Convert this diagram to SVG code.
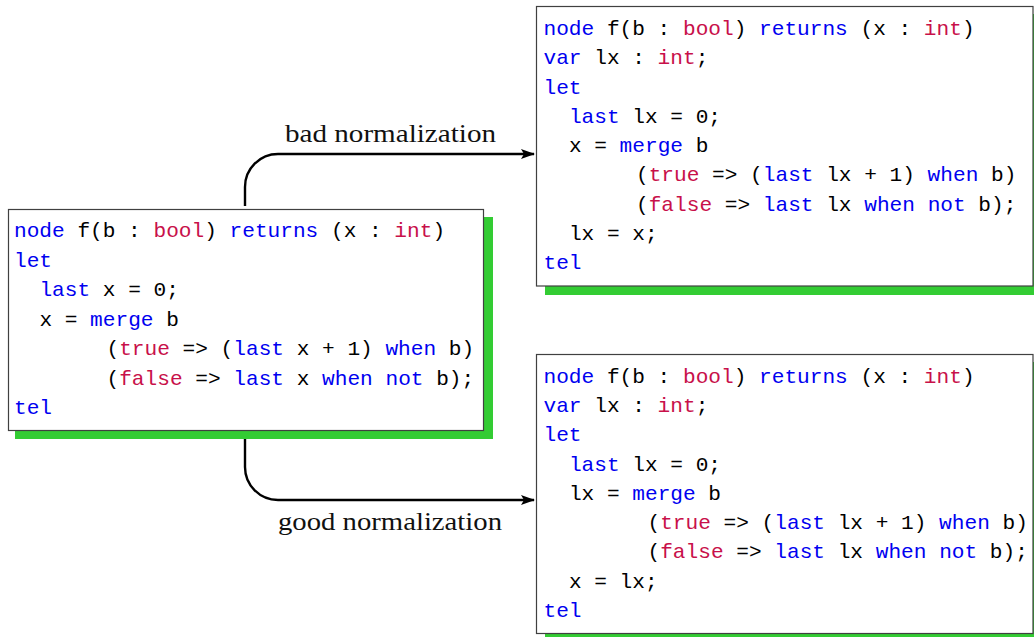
<svg xmlns="http://www.w3.org/2000/svg" width="1034" height="637" viewBox="0 0 1034 637">
<style>
.code{font-family:"Liberation Mono","DejaVu Sans Mono",monospace;font-size:21.13px;fill:#000}
.k{fill:#0000f0}
.t{fill:#c8104a}
.box{fill:#fff;stroke:#404040;stroke-width:1.2}
.shadow{fill:#33cc33}
.lbl{font-family:"Liberation Serif","DejaVu Serif",serif;font-size:26px;fill:#111}
.conn{fill:none;stroke:#000;stroke-width:2.4}
</style>
<defs>
<marker id="arr" viewBox="0 0 14 10" refX="13" refY="5" markerWidth="14" markerHeight="10" markerUnits="userSpaceOnUse" orient="auto">
<path d="M0,0 L14,5 L0,10 L3,5 Z" fill="#000"/>
</marker>
</defs>
<g id="connectors">
<path class="conn" d="M245,206 V187 A33,33 0 0 1 278,154 H534" marker-end="url(#arr)"/>
<path class="conn" d="M245,434 V467 A33,33 0 0 0 278,500 H534" marker-end="url(#arr)"/>
<text class="lbl" x="390.5" y="142" text-anchor="middle" textLength="211" lengthAdjust="spacingAndGlyphs">bad normalization</text>
<text class="lbl" x="390" y="530" text-anchor="middle" textLength="224" lengthAdjust="spacingAndGlyphs">good normalization</text>
</g>
<g id="source">
<rect class="shadow" x="15" y="217" width="478" height="222"/>
<rect class="box" x="8.5" y="209.5" width="475" height="221"/>
<g class="code" xml:space="preserve">
<text x="14" y="237"><tspan class="k">node</tspan> f(b : <tspan class="t">bool</tspan>) <tspan class="k">returns</tspan> (x : <tspan class="t">int</tspan>)</text>
<text x="14" y="266.5"><tspan class="k">let</tspan></text>
<text x="39.4" y="296"><tspan class="k">last</tspan> x = 0;</text>
<text x="39.4" y="325.5">x = <tspan class="k">merge</tspan> b</text>
<text x="106.5" y="355">(<tspan class="t">true</tspan> =&gt; (<tspan class="k">last</tspan> x + 1) <tspan class="k">when</tspan> b)</text>
<text x="106.5" y="384.5">(<tspan class="t">false</tspan> =&gt; <tspan class="k">last</tspan> x <tspan class="k">when</tspan> <tspan class="k">not</tspan> b);</text>
<text x="14" y="414"><tspan class="k">tel</tspan></text>
</g>
</g>
<g id="bad">
<rect class="shadow" x="545" y="14" width="495" height="281"/>
<rect class="box" x="536.5" y="6.5" width="496.5" height="279.5"/>
<g class="code" xml:space="preserve">
<text x="543.5" y="35"><tspan class="k">node</tspan> f(b : <tspan class="t">bool</tspan>) <tspan class="k">returns</tspan> (x : <tspan class="t">int</tspan>)</text>
<text x="543.5" y="64.3"><tspan class="k">var</tspan> lx : <tspan class="t">int</tspan>;</text>
<text x="543.5" y="93.5"><tspan class="k">let</tspan></text>
<text x="568.9" y="122.8"><tspan class="k">last</tspan> lx = 0;</text>
<text x="568.9" y="152">x = <tspan class="k">merge</tspan> b</text>
<text x="636" y="181.3">(<tspan class="t">true</tspan> =&gt; (<tspan class="k">last</tspan> lx + 1) <tspan class="k">when</tspan> b)</text>
<text x="636" y="210.5">(<tspan class="t">false</tspan> =&gt; <tspan class="k">last</tspan> lx <tspan class="k">when</tspan> <tspan class="k">not</tspan> b);</text>
<text x="568.9" y="239.8">lx = x;</text>
<text x="543.5" y="269"><tspan class="k">tel</tspan></text>
</g>
</g>
<g id="good">
<rect class="shadow" x="545" y="362" width="495" height="281"/>
<rect class="box" x="536.5" y="354.5" width="496.5" height="279"/>
<g class="code" xml:space="preserve">
<text x="543.5" y="382.7"><tspan class="k">node</tspan> f(b : <tspan class="t">bool</tspan>) <tspan class="k">returns</tspan> (x : <tspan class="t">int</tspan>)</text>
<text x="543.5" y="412"><tspan class="k">var</tspan> lx : <tspan class="t">int</tspan>;</text>
<text x="543.5" y="441.2"><tspan class="k">let</tspan></text>
<text x="568.9" y="470.5"><tspan class="k">last</tspan> lx = 0;</text>
<text x="568.9" y="499.7">lx = <tspan class="k">merge</tspan> b</text>
<text x="647.5" y="529">(<tspan class="t">true</tspan> =&gt; (<tspan class="k">last</tspan> lx + 1) <tspan class="k">when</tspan> b)</text>
<text x="647.5" y="558.2">(<tspan class="t">false</tspan> =&gt; <tspan class="k">last</tspan> lx <tspan class="k">when</tspan> <tspan class="k">not</tspan> b);</text>
<text x="568.9" y="587.5">x = lx;</text>
<text x="543.5" y="616.7"><tspan class="k">tel</tspan></text>
</g>
</g>
</svg>
